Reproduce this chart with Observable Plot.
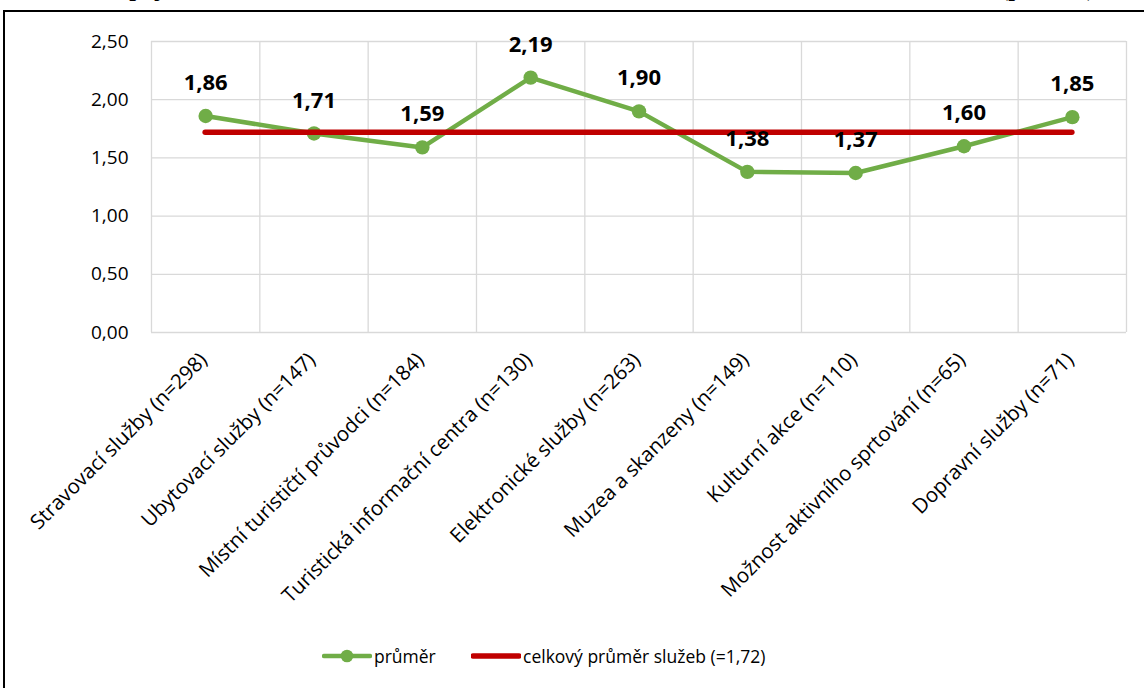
<!DOCTYPE html>
<html lang="cs">
<head>
<meta charset="utf-8">
<script src="https://cdn.jsdelivr.net/npm/d3@7"></script>
<script src="https://cdn.jsdelivr.net/npm/@observablehq/plot@0.6"></script>
<style>
  html, body { margin: 0; padding: 0; background: #fff; overflow: hidden; }
  body { width: 1144px; height: 688px; position: relative; }
  .title {
    position: relative; height: 10px; overflow: hidden;
  }
  .title span {
    position: absolute; left: 116px; top: -24px; white-space: nowrap;
    font-family: "Liberation Serif", "Times New Roman", serif;
    font-weight: bold; font-size: 24px; line-height: 24px; color: #000;
  }
  .frame {
    margin-left: 3px; width: 1160px; height: 700px;
    border: 2px solid #000; border-right: none; border-bottom: none;
    box-sizing: border-box;
  }
  .legend {
    position: relative; height: 60px;
    font-family: "Open Sans", sans-serif; font-size: 17.5px; color: #000;
  }
  .legend .item { position: absolute; top: 32px; display: flex; align-items: center; }
  .legend svg { display: block; }
</style>
</head>
<body>
<div class="title"><span id="title"></span></div>
<div class="frame">
  <div id="chart"></div>
  <div class="legend" id="legend"></div>
</div>
<script>
const titleText = "Spojené hodnocení dílčích služeb cestovního ruchu v obci a turistické destinaci (průměr)";

const categories = [
  "Stravovací služby (n=298)",
  "Ubytovací služby (n=147)",
  "Místní turističtí průvodci (n=184)",
  "Turistická informační centra (n=130)",
  "Elektronické služby (n=263)",
  "Muzea a skanzeny (n=149)",
  "Kulturní akce (n=110)",
  "Možnost aktivního sprtování (n=65)",
  "Dopravní služby (n=71)"
];
const means = [1.86, 1.71, 1.59, 2.19, 1.90, 1.38, 1.37, 1.60, 1.85];
const overallMean = 1.72;
const yTicks = [0, 0.5, 1, 1.5, 2, 2.5];

const seriesName = "průměr";
const overallName = "celkový průměr služeb (=1,72)";

const green = "#70ad47";
const red = "#c00000";
const grid = "#d9d9d9";

const fmt = v => v.toFixed(2).replace(".", ",");

// title: stretched by word spacing to the width of the chart block
const titleEl = document.getElementById("title");
titleEl.textContent = titleText;
const titleWidth = 979;
const gaps = titleText.split(" ").length - 1;
const natural = titleEl.getBoundingClientRect().width;
titleEl.style.wordSpacing = ((titleWidth - natural) / gaps) + "px";

const rows = categories.map((c, i) => ({i, c, v: means[i]}));
const edges = d3.range(categories.length + 1).map(i => i - 0.5);

const chart = Plot.plot({
  width: 1139,
  height: 600,
  marginLeft: 146,
  marginRight: 18,
  marginTop: 29,
  marginBottom: 280,
  style: {fontFamily: "'Open Sans', sans-serif", color: "#000", background: "#fff", overflow: "visible"},
  x: {type: "linear", domain: [-0.5, categories.length - 0.5], axis: null},
  y: {domain: [0, 2.5], axis: null},
  marks: [
    // gridlines
    Plot.ruleY(yTicks, {stroke: grid, strokeWidth: 1.3}),
    Plot.ruleX(edges, {stroke: grid, strokeWidth: 1.3}),
    // value axis
    Plot.axisY(yTicks, {tickSize: 0, tickPadding: 23, tickFormat: fmt, fontSize: 19, fill: "#000", label: null}),
    // category labels
    Plot.text(rows, {
      x: "i", frameAnchor: "bottom", text: "c",
      rotate: -45, textAnchor: "end", lineAnchor: "middle",
      dy: 24, dx: -2, fontSize: 20.5, fill: "#000"
    }),
    // mean per service
    Plot.line(rows, {x: "i", y: "v", stroke: green, strokeWidth: 4.5, strokeLinejoin: "round"}),
    Plot.dot(rows, {x: "i", y: "v", r: 7.2, fill: green}),
    // overall mean
    Plot.ruleY([overallMean], {
      x1: 0, x2: categories.length - 1,
      stroke: red, strokeWidth: 5.5, strokeLinecap: "round"
    }),
    // value labels
    Plot.text(rows, {
      x: "i", y: "v", text: d => fmt(d.v), dy: -33,
      fontSize: 22, fontWeight: "bold", fill: "#000"
    })
  ]
});
document.getElementById("chart").appendChild(chart);

// legend
const legend = document.getElementById("legend");
function addItem(left, color, withDot, label) {
  const item = document.createElement("div");
  item.className = "item";
  item.style.left = left + "px";
  const svg = d3.create("svg").attr("width", 50).attr("height", 16);
  svg.append("line").attr("x1", 2).attr("x2", 48).attr("y1", 8).attr("y2", 8)
    .attr("stroke", color).attr("stroke-width", withDot ? 4.5 : 5.5).attr("stroke-linecap", "round");
  if (withDot) svg.append("circle").attr("cx", 25).attr("cy", 8).attr("r", 6.3).attr("fill", color);
  item.appendChild(svg.node());
  const t = document.createElement("span");
  t.textContent = label;
  t.style.marginLeft = "2px";
  item.appendChild(t);
  legend.appendChild(item);
}
addItem(317, green, true, seriesName);
addItem(466, red, false, overallName);
</script>
</body>
</html>
